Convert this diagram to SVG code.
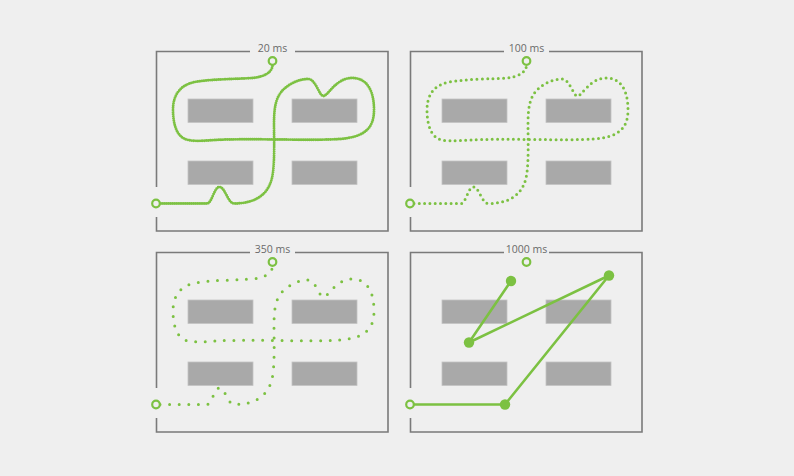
<svg xmlns="http://www.w3.org/2000/svg" xmlns:xlink="http://www.w3.org/1999/xlink" width="794" height="476" viewBox="0 0 794 476">
  <style>
    .frame { fill: none; stroke: #7a7a7a; stroke-width: 1.6; }
    .block { fill: #a9a9a9; stroke: #c4c4c4; stroke-width: 0.8; }
    .label { font-family: "Open Sans", "Liberation Sans", sans-serif; font-size: 10.5px; fill: #6a6a6a; text-anchor: middle; }
    .trail { fill: none; stroke: #7cc142; stroke-linecap: round; stroke-linejoin: round; }
    .dense { stroke-width: 2.9; stroke-dasharray: 0 2.1; }
    .medium { stroke-width: 3; stroke-dasharray: 0 5.3; }
    .sparse { stroke-width: 3; stroke-dasharray: 0 9.6; }
    .ring { fill: #efefef; stroke: #7cc142; stroke-width: 2.2; }
    .dot { fill: #7cc142; }
    .seg { fill: none; stroke: #7cc142; stroke-width: 2.6; stroke-linecap: round; stroke-linejoin: round; }
  </style>
  <defs>
    <!-- room outline with openings for the label and the entrance -->
    <path id="room" d="M250,51.5 H156.5 V187 M156.5,217 V231 H388 V51.5 H295"/>
    <g id="blocks">
      <rect x="188" y="99" width="65" height="23.5"/>
      <rect x="292" y="99" width="65" height="23.5"/>
      <rect x="188" y="161" width="65" height="23.5"/>
      <rect x="292" y="161" width="65" height="23.5"/>
    </g>
    <!-- walked route from the entrance to the exit -->
    <path id="route" d="M160,203.5 L207,203.5 C212,203.5 214,187 219.5,187 C225,187 228,203.5 234,203.5 C255,203.5 268,195 272,178 C275,165 274,140 274,125 C274,110 275,98 283,90 C290,83 300,79 308,79 C316,79 319,96 323.5,96 C328,96 336,78 352,78 C368,78 374,92 374,110 C374,128 365,137 340,139 C310,141 250,138 215,140 C200,141 190,142 183,138 C175,133 173,120 173,110 C173,95 180,85 195,82 C210,79 240,79 252,78 C265,77 272,72 272.5,65.5"/>
  </defs>

  <rect width="794" height="476" fill="#efefef"/>

  <g id="panel-20ms">
    <use xlink:href="#room" class="frame"/>
    <g class="block"><use xlink:href="#blocks"/></g>
    <text class="label" x="272.5" y="51.5">20 ms</text>
    <use xlink:href="#route" class="trail dense"/>
    <circle class="ring" cx="156" cy="203.5" r="3.8"/>
    <circle class="ring" cx="272.5" cy="61" r="3.8"/>
  </g>

  <g id="panel-100ms" transform="translate(254,0)">
    <use xlink:href="#room" class="frame"/>
    <g class="block"><use xlink:href="#blocks"/></g>
    <text class="label" x="272.5" y="51.5">100 ms</text>
    <use xlink:href="#route" class="trail medium"/>
    <circle class="ring" cx="156" cy="203.5" r="3.8"/>
    <circle class="ring" cx="272.5" cy="61" r="3.8"/>
  </g>

  <g id="panel-350ms" transform="translate(0,201)">
    <use xlink:href="#room" class="frame"/>
    <g class="block"><use xlink:href="#blocks"/></g>
    <text class="label" x="272.5" y="51.5">350 ms</text>
    <use xlink:href="#route" class="trail sparse"/>
    <circle class="ring" cx="156" cy="203.5" r="3.8"/>
    <circle class="ring" cx="272.5" cy="61" r="3.8"/>
  </g>

  <g id="panel-1000ms" transform="translate(254,201)">
    <use xlink:href="#room" class="frame"/>
    <g class="block"><use xlink:href="#blocks"/></g>
    <text class="label" x="272.5" y="51.5">1000 ms</text>
    <g id="connectors">
      <polyline class="seg" points="160,203.5 251,203.5 355,74.5 215,141.5 257,80"/>
    </g>
    <circle class="dot" cx="251" cy="203.5" r="5.2"/>
    <circle class="dot" cx="355" cy="74.5" r="5.2"/>
    <circle class="dot" cx="215" cy="141.5" r="5.2"/>
    <circle class="dot" cx="257" cy="80" r="5.2"/>
    <circle class="ring" cx="156" cy="203.5" r="3.8"/>
    <circle class="ring" cx="272.5" cy="61" r="3.8"/>
  </g>
</svg>
